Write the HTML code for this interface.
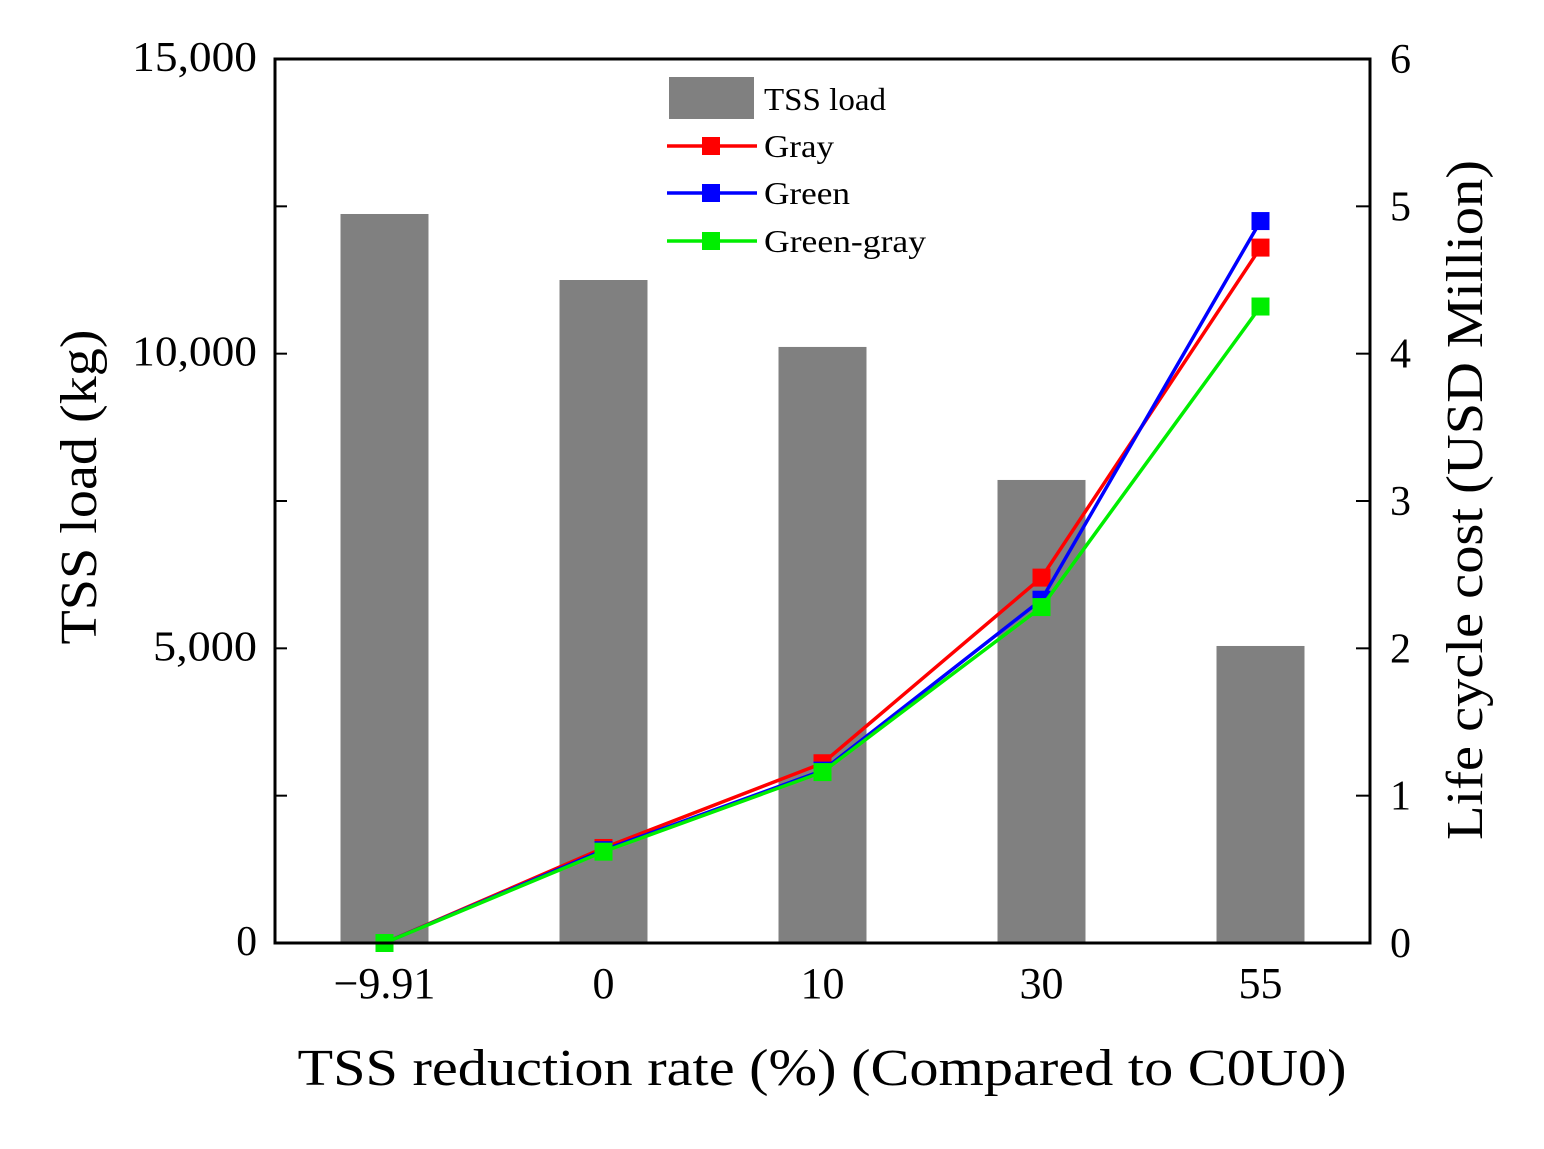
<!DOCTYPE html>
<html><head><meta charset="utf-8"><style>
body{margin:0;background:#fff}
svg text{font-family:"Liberation Serif",serif;fill:#000}
</style></head><body>
<svg id="chart" width="1544" height="1144" xmlns="http://www.w3.org/2000/svg">
<g id="bars"></g>
<g id="lines"></g>
<rect x="275" y="59" width="1095" height="884" fill="none" stroke="#000" stroke-width="3"/>
<g id="ticks"></g>
<text transform="translate(96,487) rotate(-90)" text-anchor="middle" font-size="52" textLength="315" lengthAdjust="spacingAndGlyphs">TSS load (kg)</text>
<text transform="translate(1482,500) rotate(-90)" text-anchor="middle" font-size="52" textLength="680" lengthAdjust="spacingAndGlyphs">Life cycle cost (USD Million)</text>
<text x="822" y="1085" text-anchor="middle" font-size="52" textLength="1049" lengthAdjust="spacingAndGlyphs">TSS reduction rate (%) (Compared to C0U0)</text>
<g>
<rect x="669" y="77" width="85" height="42" fill="#808080"/>
<text x="764" y="110" font-size="32" textLength="122" lengthAdjust="spacingAndGlyphs">TSS load</text>
<line x1="667" y1="146" x2="757" y2="146" stroke="#ff0000" stroke-width="3.5"/><rect x="702" y="137" width="18" height="18" fill="#ff0000"/>
<text x="764" y="157" font-size="32" textLength="70" lengthAdjust="spacingAndGlyphs">Gray</text>
<line x1="667" y1="193" x2="757" y2="193" stroke="#0000ff" stroke-width="3.5"/><rect x="702" y="184" width="18" height="18" fill="#0000ff"/>
<text x="764" y="204" font-size="32" textLength="86" lengthAdjust="spacingAndGlyphs">Green</text>
<line x1="667" y1="241" x2="757" y2="241" stroke="#00ee00" stroke-width="3.5"/><rect x="702" y="232" width="18" height="18" fill="#00ee00"/>
<text x="764" y="252" font-size="32" textLength="162" lengthAdjust="spacingAndGlyphs">Green-gray</text>
</g>
</svg>
<script>
const categories=["\u22129.91","0","10","30","55"];
const tssLoad=[12370,11250,10114,7857,5040];
const gray=[0,0.645,1.22,2.48,4.72];
const green=[0,0.63,1.17,2.33,4.9];
const greenGray=[0,0.62,1.16,2.28,4.32];
const leftTicks=["0","5,000","10,000","15,000"];
const rightTicks=["0","1","2","3","4","5","6"];
const NS="http://www.w3.org/2000/svg";
const L=275,R=1370,T=59,B=943;
const xs=i=>L+(R-L)/5*(i+0.5);
const yL=v=>B-v/15000*(B-T);
const yR=v=>B-v/6*(B-T);
function mk(t,a,p){const e=document.createElementNS(NS,t);for(const k in a)e.setAttribute(k,a[k]);p.appendChild(e);return e;}
const bars=document.getElementById('bars');
tssLoad.forEach((v,i)=>{const r=mk('rect',{x:xs(i)-44,y:yL(v),width:88,height:B-yL(v),fill:'#808080'},bars);

});
const ticks=document.getElementById('ticks');
for(let k=0;k<=6;k++){const y=yR(k);
mk('line',{x1:L,x2:L+12,y1:y,y2:y,stroke:'#000','stroke-width':2},ticks);
mk('line',{x1:R-14,x2:R,y1:y,y2:y,stroke:'#000','stroke-width':2},ticks);
const t=mk('text',{x:1390,y:y+14,'font-size':42},ticks);t.textContent=rightTicks[k];

}
leftTicks.forEach((s,i)=>{const t=mk('text',{x:257,y:yL(i*5000)+12,'font-size':42,'text-anchor':'end','textLength':s.length*20.8,'lengthAdjust':'spacingAndGlyphs'},ticks);t.textContent=s;

});
categories.forEach((s,i)=>{const t=mk('text',{x:xs(i),y:998,'font-size':44,'text-anchor':'middle'},ticks);t.textContent=s;

});
const lines=document.getElementById('lines');
[[gray,'#ff0000','gray'],[green,'#0000ff','green'],[greenGray,'#00ee00','green-gray']].forEach(([d,c,n])=>{
const p=mk('polyline',{points:d.map((v,i)=>xs(i)+','+yR(v)).join(' '),fill:'none',stroke:c,'stroke-width':3.5},lines);


d.forEach((v,i)=>{const m=mk('rect',{x:xs(i)-9,y:yR(v)-9,width:18,height:18,fill:c},lines);

});});
</script>
</body></html>
